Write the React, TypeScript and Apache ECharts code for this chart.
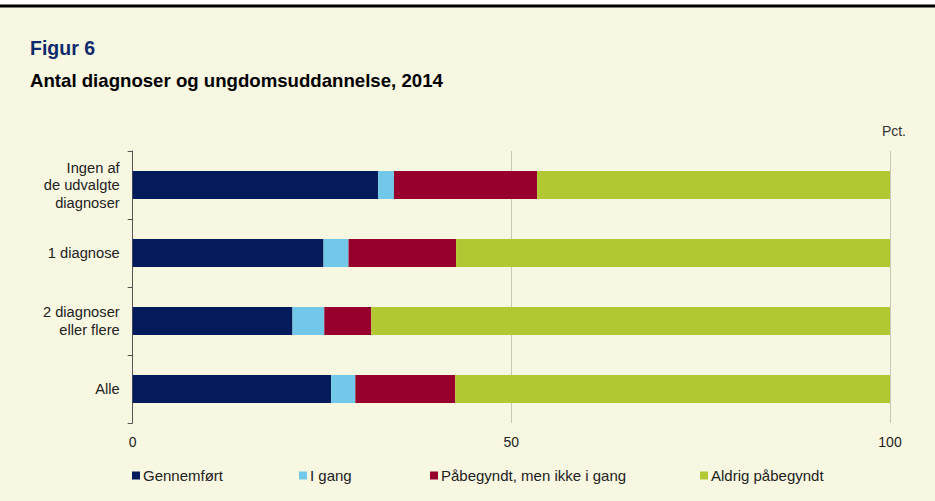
import React, { useEffect, useRef } from "react";
import * as echarts from "echarts";

const categories = [
  "Ingen af\nde udvalgte\ndiagnoser",
  "1 diagnose",
  "2 diagnoser\neller flere",
  "Alle",
];
const seriesNames = [
  "Gennemført",
  "I gang",
  "Påbegyndt, men ikke i gang",
  "Aldrig påbegyndt",
];
const gennemfoert = [32.4, 25.2, 21.1, 26.2];
const iGang = [2.1, 3.3, 4.2, 3.2];
const paabegyndt = [18.9, 14.2, 6.2, 13.2];
const aldrig = [46.6, 57.3, 68.5, 57.4];
const xTicks = [0, 50, 100];

const colors = ["#031b5a", "#72c8e8", "#97002c", "#b2c833"];
const legendLefts = [132, 299, 430, 700];

export default function App() {
  const ref = useRef<HTMLDivElement>(null);
  useEffect(() => {
    if (!ref.current) return;
    const chart = echarts.init(ref.current, undefined, { renderer: "svg" });
    const values = [gennemfoert, iGang, paabegyndt, aldrig];
    const font = "'Liberation Sans', Arial, sans-serif";
    chart.setOption({
      animation: false,
      backgroundColor: "#f8f7e1",
      textStyle: { fontFamily: font },
      grid: { left: 132.7, right: 45, top: 151, bottom: 78, containLabel: false },
      graphic: [
        { type: "rect", shape: { x: 0, y: 0, width: 935, height: 4.5 }, style: { fill: "#ffffff" } },
        { type: "rect", shape: { x: 0, y: 4.5, width: 935, height: 3 }, style: { fill: "#000000" } },
        {
          type: "text",
          x: 30,
          y: 38,
          style: { text: "Figur 6", fill: "#0d2a6b", font: `bold 19.5px ${font}` },
        },
        {
          type: "text",
          x: 30,
          y: 72,
          scaleX: 1.065,
          style: {
            text: "Antal diagnoser og ungdomsuddannelse, 2014",
            fill: "#000000",
            font: `bold 17.5px ${font}`,
          },
        },
        {
          type: "text",
          right: 29,
          top: 124,
          style: { text: "Pct.", fill: "#333333", font: `14px ${font}` },
        },
      ],
      legend: seriesNames.map((n, i) => ({
        data: [n],
        left: legendLefts[i],
        top: 468,
        padding: 0,
        itemWidth: 8,
        itemHeight: 8,
        icon: "rect",
        selectedMode: false,
        textStyle: { fontSize: 15, color: "#222222", fontFamily: font, padding: [0, 0, 0, -2] },
      })),
      xAxis: {
        type: "value",
        min: xTicks[0],
        max: xTicks[xTicks.length - 1],
        interval: 50,
        axisLine: { show: false },
        axisTick: { show: false },
        splitLine: { show: true, lineStyle: { color: "#c9c7b9", width: 1 } },
        axisLabel: { fontSize: 14, color: "#222222", margin: 12, fontFamily: font },
      },
      yAxis: {
        type: "category",
        inverse: true,
        data: categories,
        axisLine: { show: true, lineStyle: { color: "#555555", width: 1 } },
        axisTick: { show: true, length: 5, lineStyle: { color: "#555555" } },
        axisLabel: {
          fontSize: 14.7,
          lineHeight: 17.5,
          color: "#222222",
          margin: 13,
          align: "right",
          fontFamily: font,
        },
      },
      series: seriesNames.map((n, i) => ({
        name: n,
        type: "bar",
        stack: "total",
        barWidth: 28,
        data: values[i],
        itemStyle: { color: colors[i] },
      })),
    });
    return () => chart.dispose();
  }, []);
  return (
    <div
      ref={ref}
      style={{ position: "fixed", left: 0, top: 0, width: 935, height: 501 }}
    />
  );
}
